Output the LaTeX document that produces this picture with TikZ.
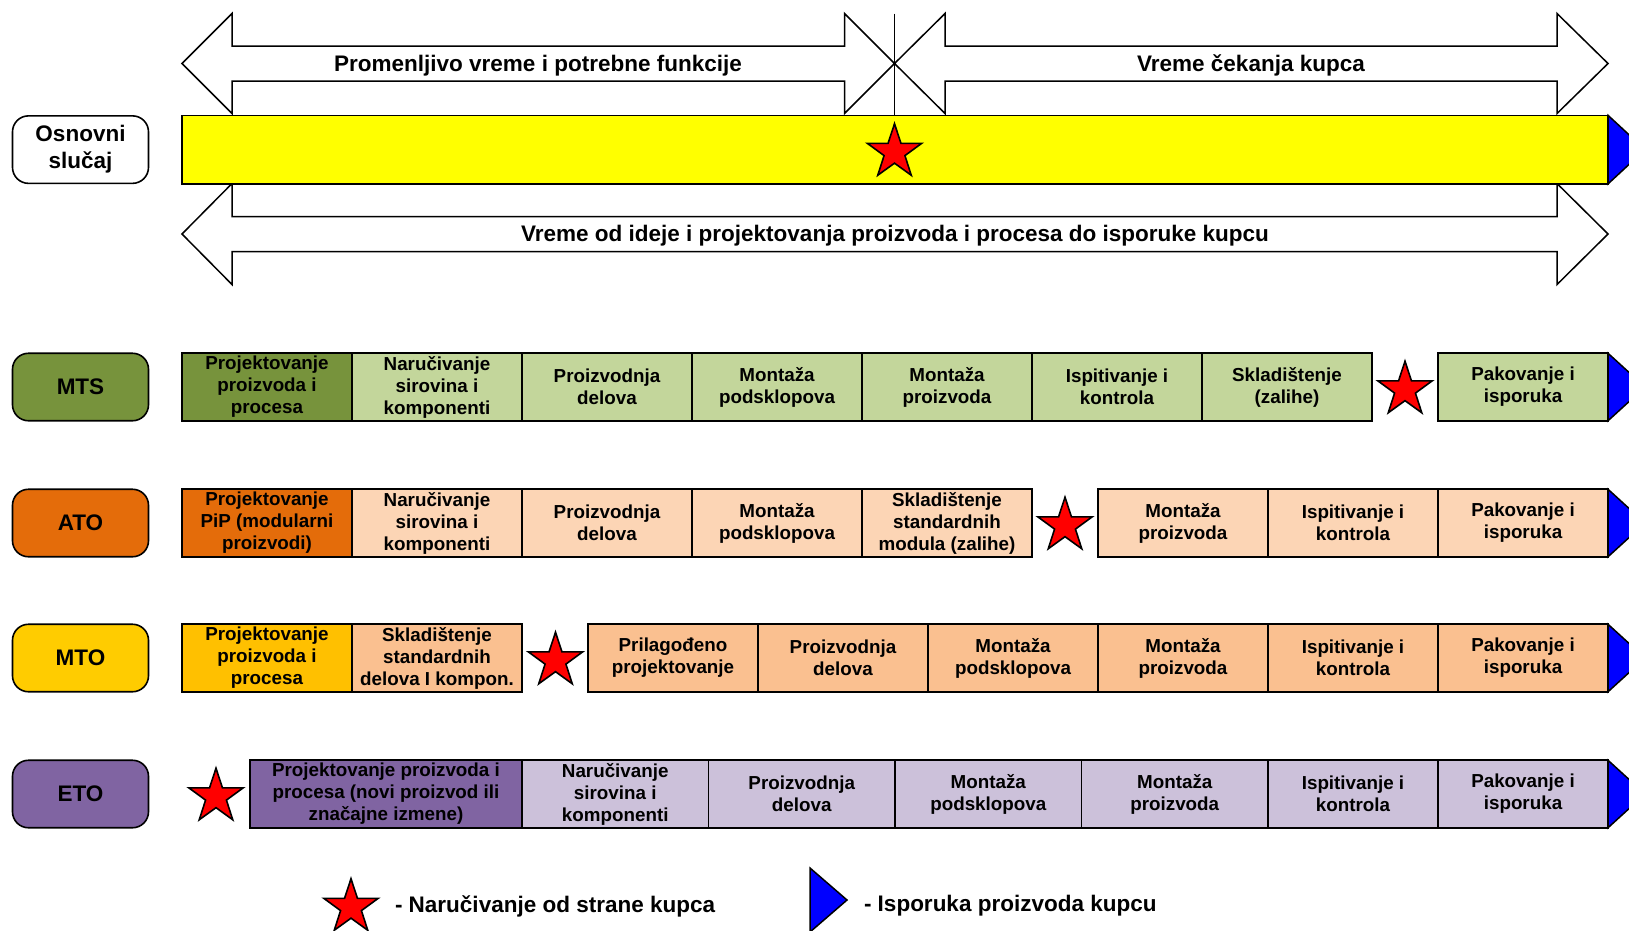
\documentclass[tikz,border=0pt]{standalone}
\usepackage{fontspec}
\setmainfont{Liberation Sans}
\usetikzlibrary{shapes.geometric}

\definecolor{mtsdark}{HTML}{77933C}
\definecolor{mtslight}{HTML}{C3D69B}
\definecolor{atodark}{HTML}{E46C0A}
\definecolor{atolight}{HTML}{FCD5B5}
\definecolor{mtolabel}{HTML}{FFCC00}
\definecolor{mtodark}{HTML}{FFC000}
\definecolor{mtolight}{HTML}{FAC090}
\definecolor{etodark}{HTML}{8064A2}
\definecolor{etolight}{HTML}{CCC1DA}
\definecolor{barfill}{HTML}{FFFF00}

\begin{document}
\begin{tikzpicture}[x=1pt,y=-1pt,
  every node/.style={inner sep=0pt,outer sep=0pt},
  cell/.style={draw=black,line width=1.6pt,minimum width=170pt,minimum height=67.5pt,align=center,font=\fontsize{18.8}{22}\selectfont\bfseries},
  lbl/.style={draw=black,line width=1.6pt,rounded corners=16pt,minimum width=136pt,minimum height=67.5pt,align=center,font=\fontsize{22.5}{27}\selectfont\bfseries},
  ordstar/.style={star,star points=5,star point ratio=2.6,draw=black,line width=1.6pt,fill=red,minimum size=57pt},
  bigarrow/.style={draw=black,line width=1.5pt,fill=white},
  deliv/.style={draw=black,line width=1.5pt,fill=blue},
  txt/.style={font=\fontsize{22.5}{27}\selectfont\bfseries}]
\useasboundingbox (0,0) rectangle (1629,930);

\draw [bigarrow] (182,63.5) -- (232,13.5) -- (232,46) -- (844.5,46) -- (844.5,13.5) -- (894.5,63.5) -- (844.5,113.5) -- (844.5,81) -- (232,81) -- (232,113.5) -- cycle;
\draw [bigarrow] (894.5,63.5) -- (945,13.5) -- (945,46) -- (1557,46) -- (1557,13.5) -- (1608,63.5) -- (1557,113.5) -- (1557,81) -- (945,81) -- (945,113.5) -- cycle;
\draw [black,line width=1.5pt] (894.5,13.5) -- (894.5,115);
\draw [bigarrow] (182,234) -- (232,183.5) -- (232,216.5) -- (1557,216.5) -- (1557,183.5) -- (1608,234) -- (1557,284.5) -- (1557,251.5) -- (232,251.5) -- (232,284.5) -- cycle;
\node [txt] (varfun) at (538,65.5) {Promenljivo vreme i potrebne funkcije};
\node [txt] (cekanje) at (1251,65.5) {Vreme čekanja kupca};
\node [txt] (ukupno) at (895,236) {Vreme od ideje i projektovanja proizvoda i procesa do isporuke kupcu};

\node [lbl,fill=white] (osn) at (80.5,149.6) {Osnovni\\slučaj};
\node [draw=black,line width=1.6pt,fill=barfill,minimum width=1426pt,minimum height=68.6pt] (bar) at (895,149.6) {};
\draw [deliv] (bar.north east) -- ([xshift=37pt]bar.east) -- (bar.south east) -- cycle;
\node [ordstar] (osnstar) at (894.5,152.2) {};

\node [lbl,fill=mtsdark] (mts) at (80.5,387) {MTS};
\node [cell,fill=mtsdark] (mts1) at (267,387) {Projektovanje\\proizvoda i\\procesa};
\node [cell,fill=mtslight] (mts2) at (437,387) {Naručivanje\\sirovina i\\komponenti};
\node [cell,fill=mtslight] (mts3) at (607,387) {Proizvodnja\\delova};
\node [cell,fill=mtslight] (mts4) at (777,387) {Montaža\\podsklopova};
\node [cell,fill=mtslight] (mts5) at (947,387) {Montaža\\proizvoda};
\node [cell,fill=mtslight] (mts6) at (1117,387) {Ispitivanje i\\kontrola};
\node [cell,fill=mtslight] (mts7) at (1287,387) {Skladištenje\\(zalihe)};
\node [ordstar] (mtsstar) at (1405,389.7) {};
\node [cell,fill=mtslight] (mts8) at (1523,387) {Pakovanje i\\isporuka};
\draw [deliv] (mts8.north east) -- ([xshift=37pt]mts8.east) -- (mts8.south east) -- cycle;

\node [lbl,fill=atodark] (ato) at (80.5,523) {ATO};
\node [cell,fill=atodark] (ato1) at (267,523) {Projektovanje\\PiP (modularni\\proizvodi)};
\node [cell,fill=atolight] (ato2) at (437,523) {Naručivanje\\sirovina i\\komponenti};
\node [cell,fill=atolight] (ato3) at (607,523) {Proizvodnja\\delova};
\node [cell,fill=atolight] (ato4) at (777,523) {Montaža\\podsklopova};
\node [cell,fill=atolight] (ato5) at (947,523) {Skladištenje\\standardnih\\modula (zalihe)};
\node [ordstar] (atostar) at (1065,525.7) {};
\node [cell,fill=atolight] (ato6) at (1183,523) {Montaža\\proizvoda};
\node [cell,fill=atolight] (ato7) at (1353,523) {Ispitivanje i\\kontrola};
\node [cell,fill=atolight] (ato8) at (1523,523) {Pakovanje i\\isporuka};
\draw [deliv] (ato8.north east) -- ([xshift=37pt]ato8.east) -- (ato8.south east) -- cycle;

\node [lbl,fill=mtolabel] (mto) at (80.5,658) {MTO};
\node [cell,fill=mtodark] (mto1) at (267,658) {Projektovanje\\proizvoda i\\procesa};
\node [cell,fill=mtolight] (mto2) at (437,658) {Skladištenje\\standardnih\\delova I kompon.};
\node [ordstar] (mtostar) at (555.5,660.7) {};
\node [cell,fill=mtolight] (mto3) at (673,658) {Prilagođeno\\projektovanje};
\node [cell,fill=mtolight] (mto4) at (843,658) {Proizvodnja\\delova};
\node [cell,fill=mtolight] (mto5) at (1013,658) {Montaža\\podsklopova};
\node [cell,fill=mtolight] (mto6) at (1183,658) {Montaža\\proizvoda};
\node [cell,fill=mtolight] (mto7) at (1353,658) {Ispitivanje i\\kontrola};
\node [cell,fill=mtolight] (mto8) at (1523,658) {Pakovanje i\\isporuka};
\draw [deliv] (mto8.north east) -- ([xshift=37pt]mto8.east) -- (mto8.south east) -- cycle;

\node [lbl,fill=etodark] (eto) at (80.5,794) {ETO};
\node [ordstar] (etostar) at (216,796.7) {};
\node [cell,fill=etodark,minimum width=272pt] (eto1) at (386,794) {Projektovanje proizvoda i\\procesa (novi proizvod ili\\značajne izmene)};
\node [cell,fill=etolight,minimum width=186.5pt] (eto2) at (615.25,794) {Naručivanje\\sirovina i\\komponenti};
\node [cell,fill=etolight,minimum width=186.5pt] (eto3) at (801.75,794) {Proizvodnja\\delova};
\node [cell,fill=etolight,minimum width=186.5pt] (eto4) at (988.25,794) {Montaža\\podsklopova};
\node [cell,fill=etolight,minimum width=186.5pt] (eto5) at (1174.75,794) {Montaža\\proizvoda};
\node [cell,fill=etolight] (eto6) at (1353,794) {Ispitivanje i\\kontrola};
\node [cell,fill=etolight] (eto7) at (1523,794) {Pakovanje i\\isporuka};
\draw [deliv] (eto7.north east) -- ([xshift=37pt]eto7.east) -- (eto7.south east) -- cycle;

\node [ordstar] (legstar) at (351,907.2) {};
\node [txt,anchor=west] (legorder) at (395,906) {- Naručivanje od strane kupca};
\coordinate (legtri) at (810,900);
\draw [deliv] ([yshift=32pt]legtri) -- ([xshift=37pt]legtri) -- ([yshift=-32pt]legtri) -- cycle;
\node [txt,anchor=west] (legdeliv) at (864,906) {- Isporuka proizvoda kupcu};
\end{tikzpicture}
\end{document}
